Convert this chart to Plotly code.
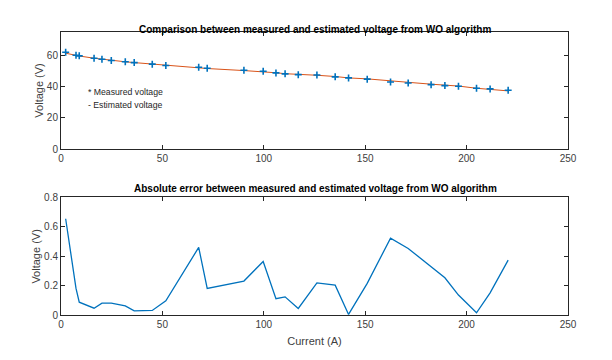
import plotly.graph_objects as go

# values
current = [2.3, 7.4, 9.0, 16.3, 20.2, 24.8, 31.7, 36.1, 45.0, 51.7, 67.9, 72.1,
           90.2, 99.7, 106.0, 110.5, 117.0, 126.2, 135.2, 141.8, 151.0, 162.5,
           171.2, 182.5, 189.3, 196.0, 204.9, 211.6, 220.5]
measured_v = [61.9, 60.0, 59.6, 58.1, 57.4, 56.6, 55.8, 55.3, 54.3, 53.4, 52.3, 51.7,
              50.4, 49.8, 48.7, 48.1, 47.6, 47.4, 46.2, 45.5, 44.7, 42.9,
              42.3, 41.2, 40.6, 40.2, 38.9, 38.5, 37.6]
estimated_v = [61.3, 59.8, 59.5, 58.1, 57.4, 56.7, 55.8, 55.3, 54.3, 53.4, 51.9, 51.5,
               50.2, 49.5, 48.8, 48.2, 47.6, 47.2, 46.4, 45.5, 44.9, 43.4,
               42.7, 41.5, 40.9, 40.3, 38.9, 38.3, 37.2]
abs_error = [0.655, 0.183, 0.09, 0.049, 0.083, 0.083, 0.065, 0.031, 0.034, 0.099, 0.461, 0.183,
             0.233, 0.366, 0.113, 0.126, 0.047, 0.221, 0.205, 0.007, 0.217, 0.524,
             0.454, 0.33, 0.255, 0.138, 0.018, 0.153, 0.375]

blue = "#0072BD"
orange = "#D95319"
axcol = "#262626"
font = "Arial"

fig = go.Figure()
fig.add_trace(go.Scatter(x=current, y=estimated_v, mode="lines",
                         line=dict(color=orange, width=1), xaxis="x", yaxis="y"))
fig.add_trace(go.Scatter(x=current, y=measured_v, mode="markers",
                         marker=dict(symbol="cross-thin", size=5,
                                     line=dict(color=blue, width=1.6)),
                         xaxis="x", yaxis="y"))
fig.add_trace(go.Scatter(x=current, y=abs_error, mode="lines",
                         line=dict(color=blue, width=1.3), xaxis="x2", yaxis="y2"))

ax = dict(showgrid=False, zeroline=False, showline=True, linecolor=axcol, linewidth=1,
          mirror="ticks", ticks="inside", ticklen=4, tickcolor=axcol, automargin=False,
          tickfont=dict(family=font, size=10, color="#404040"))

# the page body adds an 8px offset, so domains are shifted to compensate
fig.update_layout(
    width=612, height=360,
    margin=dict(l=0, r=0, t=0, b=0),
    plot_bgcolor="white", paper_bgcolor="white",
    showlegend=False,
    font=dict(family=font, color=axcol),
    xaxis=dict(ax, domain=[0.0866, 0.915], range=[0, 250], tickvals=[0, 50, 100, 150, 200, 250],
               anchor="y"),
    yaxis=dict(ax, domain=[0.608, 0.934], range=[0, 75], tickvals=[0, 20, 40, 60],
               anchor="x",
               title=dict(text="Voltage (V)", font=dict(family=font, size=11, color="#404040"),
                          standoff=1)),
    xaxis2=dict(ax, domain=[0.0866, 0.915], range=[0, 250], tickvals=[0, 50, 100, 150, 200, 250],
                anchor="y2",
                title=dict(text="Current (A)", font=dict(family=font, size=11, color="#404040"),
                           standoff=7)),
    yaxis2=dict(ax, domain=[0.146, 0.474], range=[0, 0.8],
                tickvals=[0, 0.2, 0.4, 0.6, 0.8], ticktext=["0", "0.2", "0.4", "0.6", "0.8"],
                anchor="x2",
                title=dict(text="Voltage (V)", font=dict(family=font, size=11, color="#404040"),
                           standoff=1)),
)

fig.add_annotation(text="<b>Comparison between measured and estimated voltage from WO algorithm</b>",
                   xref="paper", yref="paper", x=0.502, y=0.961, showarrow=False,
                   font=dict(family=font, size=10, color="black"))
fig.add_annotation(text="<b>Absolute error between measured and estimated voltage from WO algorithm</b>",
                   xref="paper", yref="paper", x=0.502, y=0.5, showarrow=False,
                   font=dict(family=font, size=10, color="black"))
fig.add_annotation(text="* Measured voltage", xref="x", yref="y", x=12.5, y=36.7,
                   xanchor="left", showarrow=False, font=dict(family=font, size=8.7, color=axcol))
fig.add_annotation(text="- Estimated voltage", xref="x", yref="y", x=12.5, y=28.4,
                   xanchor="left", showarrow=False, font=dict(family=font, size=8.7, color=axcol))

fig.write_html("out.html")
